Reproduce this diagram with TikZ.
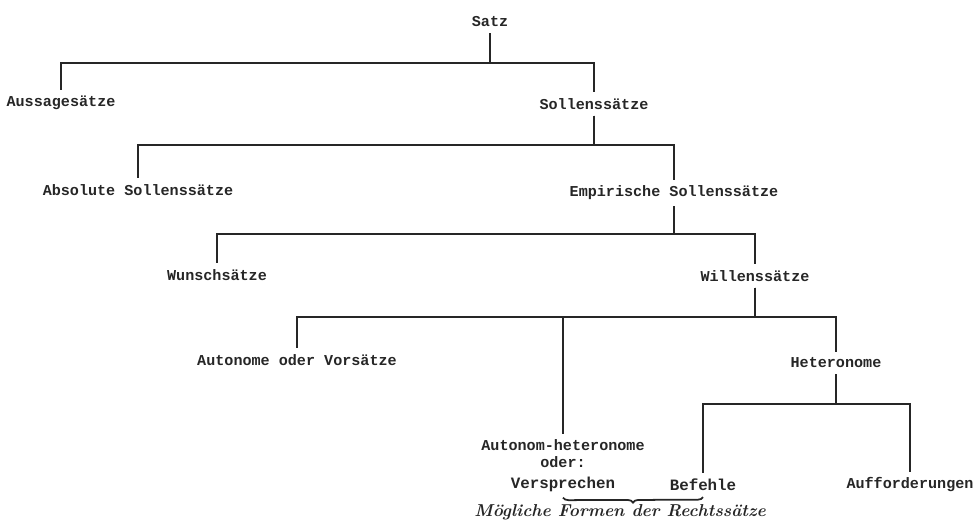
\documentclass[tikz,border=0pt]{standalone}
\usepackage{fontspec}
\newfontfamily\labelfont{Liberation Mono}
\usetikzlibrary{decorations.pathreplacing}

\begin{document}
\begin{tikzpicture}[line width=1pt, color=black!85,
        every node/.append style={font=\fontsize{8.6}{9.6}\selectfont\labelfont\bfseries, inner sep=3pt}]
      \tikzstyle{word} = [align=center]
      \tikzstyle{strong} = [font=\fontsize{9}{9}\selectfont\labelfont\bfseries]
      \tikzstyle{branch} = [to path={(\tikztostart.south) -- ([yshift=-8.2mm]\tikztostart.center) -| (\tikztotarget.north)}]
      \useasboundingbox (0,0) rectangle (19.5,-10.44);
      \node (Satz) [word] at (9.8,-0.44) {Satz};
      \node (Aussage) [word] at (1.22,-2.06) {Aussagesätze};
      \node (Sollen) [word] at (11.88,-2.08) {Sollenssätze};
      \node (Absolut) [word] at (2.76,-3.8) {Absolute Sollenssätze};
      \node (Empirisch) [word] at (13.48,-3.86) {Empirische Sollenssätze};
      \node (Wunsch) [word] at (4.34,-5.5) {Wunschsätze};
      \node (Willen) [word] at (15.1,-5.52) {Willenssätze};
      \node (Autonom) [word] at (5.94,-7.2) {Autonome oder Vorsätze};
      \node (Hetero) [word] at (16.72,-7.26) {Heteronome};
      \node (AutHet) [word] at (11.26,-9.08) {Autonom-heteronome\\oder:};
      \node (Versprechen) [word, strong] at (11.26,-9.68) {Versprechen};
      \node (Befehle) [word, strong] at (14.06,-9.7) {Befehle};
      \node (Aufford) [word] at (18.2,-9.7) {Aufforderungen};
      \foreach \p/\c in {Satz/Aussage, Satz/Sollen, Sollen/Absolut, Sollen/Empirisch,
          Empirisch/Wunsch, Empirisch/Willen, Willen/Autonom, Willen/AutHet, Willen/Hetero,
          Hetero/Befehle, Hetero/Aufford}
        \draw[branch] (\p) to (\c);
      \draw[decorate, decoration={brace, mirror, amplitude=3pt}] (Versprechen.south) -- (Befehle.south);
      \node (Formen) [font=\fontsize{9.8}{9.8}\selectfont\rmfamily\bfseries\itshape] at (12.4,-10.24) {Mögliche Formen der Rechtssätze};
    \end{tikzpicture}
\end{document}
